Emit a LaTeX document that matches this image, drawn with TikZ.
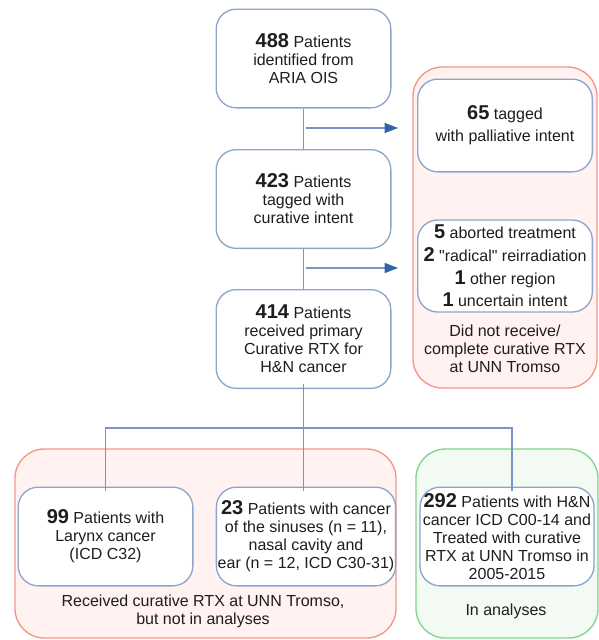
\documentclass[tikz,border=0pt]{standalone}
\usepackage{fontspec}
\setmainfont{Liberation Sans}[Ligatures=TeXOff]
\usetikzlibrary{arrows.meta}

\definecolor{boxblue}{RGB}{140,165,205}
\definecolor{lineblue}{RGB}{120,150,195}
\definecolor{tipblue}{RGB}{50,100,170}
\definecolor{grpred}{RGB}{245,150,130}
\definecolor{grpredfill}{RGB}{255,242,240}
\definecolor{grpgreen}{RGB}{130,210,145}
\definecolor{grpgreenfill}{RGB}{243,250,243}
\definecolor{inktext}{RGB}{30,30,30}

\newcommand{\bnum}[1]{{\fontsize{15}{15}\selectfont\bfseries #1}}

\tikzset{
  stage/.style={draw=boxblue, fill=white, rounded corners=15pt, line width=1pt,
    minimum width=131pt, minimum height=74pt, inner sep=1pt, align=center,
    text=inktext, font=\fontsize{12}{13.5}\selectfont},
  redgroup/.style={draw=grpred, fill=grpredfill, rounded corners=22pt, line width=1pt},
  greengroup/.style={draw=grpgreen, fill=grpgreenfill, rounded corners=22pt, line width=1pt},
  grouplabel/.style={align=center, text=inktext, font=\fontsize{12}{13.5}\selectfont},
  flow/.style={draw=lineblue, line width=1pt},
  sidearrow/.style={flow, -{Triangle[length=10pt, width=7.5pt, color=tipblue]}}
}

\begin{document}
\begin{tikzpicture}[x=0.75pt,y=0.75pt,yscale=-1,xscale=1]
\useasboundingbox (0,0) rectangle (599,640);

%Group: did not receive / complete
\draw [redgroup] (413,67) rectangle (597,388);
%Group: received, not in analyses
\draw [redgroup] (15,449) rectangle (396,638);
%Group: in analyses
\draw [greengroup] (416,449) rectangle (598,638);

%Main column
\node [stage] (n488) at (303.5,58.5) {\bnum{488} Patients\\identified from\\ARIA OIS};
\node [stage] (n423) at (303.5,199) {\bnum{423} Patients\\tagged with\\curative intent};
\node [stage] (n414) at (303.5,339) {\bnum{414} Patients\\received primary\\Curative RTX for\\H\&N cancer};

%Excluded
\node [stage, minimum height=69.5pt] (n65) at (505,125.5) {\bnum{65} tagged\\[3pt]with palliative intent};
\node [stage, minimum height=69pt, font=\fontsize{12}{17}\selectfont] (nexcl) at (505,266)
  {\bnum{5} aborted treatment\\\bnum{2} "radical" reirradiation\\\bnum{1} other region\\\bnum{1} uncertain intent};
\node [grouplabel] (ldrop) at (505,349) {Did not receive/\\complete curative RTX\\at UNN Tromso};

%Bottom row
\node [stage] (n99) at (105.5,536.5) {\bnum{99} Patients with\\Larynx cancer\\(ICD C32)};
\node [stage, minimum width=132pt] (n23) at (306,536.5) {\bnum{23} Patients with cancer\\of the sinuses (n = 11),\\nasal cavity and\\ear (n = 12, ICD C30-31)};
\node [stage, minimum width=130.5pt] (n292) at (507,536.5) {\bnum{292} Patients with H\&N\\cancer ICD C00-14 and\\Treated with curative\\RTX at UNN Tromso in\\2005-2015};
\node [grouplabel] (lnot) at (203,611) {Received curative RTX at UNN Tromso,\\but not in analyses};
\node [grouplabel] (lin) at (506,611) {In analyses};

%Connectors
\coordinate (pall) at (398,128);
\coordinate (excl) at (398,268);
\coordinate (split) at (304,428);
\draw [flow] (n488) -- (n423);
\draw [flow] (n423) -- (n414);
\draw [sidearrow] ([xshift=1.5pt]n488.south |- pall) -- (pall);
\draw [sidearrow] ([xshift=1.5pt]n423.south |- excl) -- (excl);
\draw [flow] ([yshift=-4pt]n414.south) -- ([yshift=3pt]n414.south |- n23.north);
\draw [flow] ([yshift=3pt]n99.north) |- (split) -| ([xshift=3.75pt,yshift=3pt]n292.north);

\end{tikzpicture}
\end{document}
